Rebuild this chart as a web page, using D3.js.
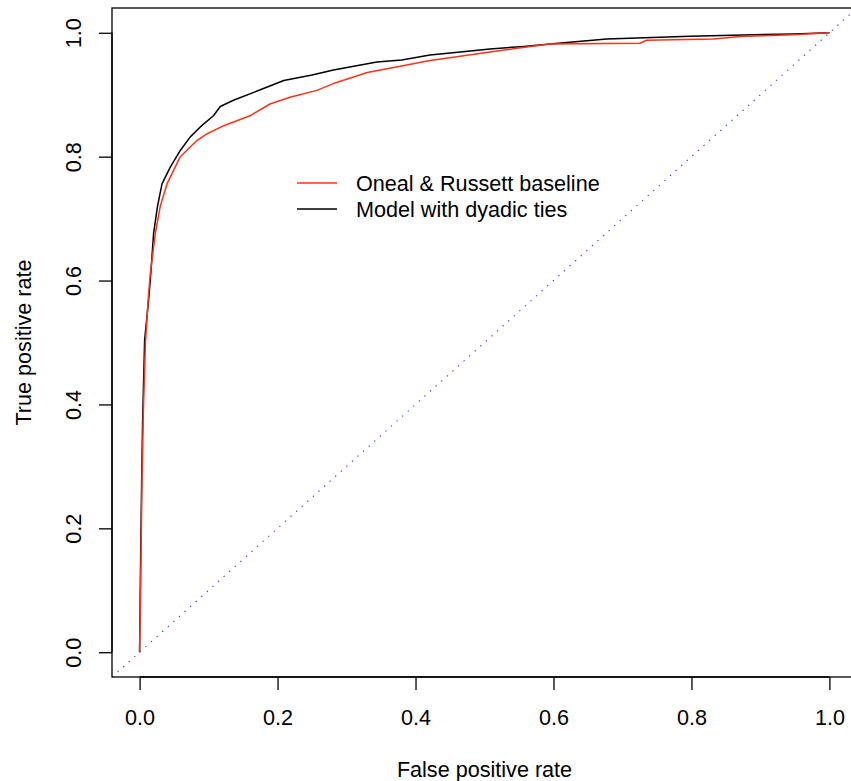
<!DOCTYPE html>
<html>
<head>
<meta charset="utf-8">
<script src="https://cdn.jsdelivr.net/npm/d3@7"></script>
<style>
  html, body { margin: 0; padding: 0; background: #fff; }
  svg { display: block; }
  text { font-family: "Liberation Sans", Arial, Helvetica, sans-serif; fill: #000; }
</style>
</head>
<body>
<svg id="chart" width="851" height="781"></svg>
<script>
// ---- data ----
const seriesNames = ["Oneal & Russett baseline", "Model with dyadic ties"];
const seriesColors = ["#ff3218", "#000000"];

const fprModel = [0, 0.0006, 0.0015, 0.003, 0.0045, 0.0073, 0.013, 0.0155, 0.0203, 0.026, 0.0325, 0.0445, 0.059, 0.0735, 0.088, 0.107, 0.117, 0.136, 0.175, 0.209, 0.25, 0.281, 0.344, 0.38, 0.421, 0.465, 0.508, 0.557, 0.595, 0.677, 0.798, 0.875, 0.948, 1];
const tprModel = [0, 0.063, 0.15, 0.278, 0.38, 0.504, 0.568, 0.60, 0.676, 0.72, 0.756, 0.783, 0.81, 0.832, 0.848, 0.866, 0.881, 0.891, 0.908, 0.923, 0.932, 0.94, 0.953, 0.956, 0.964, 0.969, 0.974, 0.978, 0.982, 0.99, 0.9945, 0.9966, 0.998, 1];

const fprBaseline = [0, 0.0008, 0.002, 0.0035, 0.0055, 0.0085, 0.0125, 0.0155, 0.0228, 0.030, 0.0397, 0.059, 0.083, 0.098, 0.122, 0.160, 0.189, 0.218, 0.257, 0.281, 0.330, 0.378, 0.419, 0.508, 0.561, 0.595, 0.725, 0.735, 0.832, 0.871, 0.948, 1];
const tprBaseline = [0, 0.06, 0.15, 0.28, 0.39, 0.50, 0.57, 0.611, 0.676, 0.72, 0.756, 0.80, 0.826, 0.837, 0.850, 0.866, 0.885, 0.896, 0.907, 0.918, 0.936, 0.946, 0.955, 0.969, 0.977, 0.982, 0.983, 0.988, 0.990, 0.994, 0.997, 1];

const tickValues = [0, 0.2, 0.4, 0.6, 0.8, 1.0];
const tickLabels = ["0.0", "0.2", "0.4", "0.6", "0.8", "1.0"];
const xTitle = "False positive rate";
const yTitle = "True positive rate";

// ---- layout ----
const svg = d3.select("#chart");
const pLeft = 112, pRight = 857, pTop = 8, pBottom = 677;
const fontSize = 21.6;
const tickLen = 13;

const x = d3.scaleLinear().domain([-0.04, 1.04]).range([pLeft, pRight]);
const y = d3.scaleLinear().domain([-0.04, 1.04]).range([pBottom, pTop]);

// clip for plot region
svg.append("defs").append("clipPath").attr("id", "plotclip")
  .append("rect").attr("x", pLeft).attr("y", pTop).attr("width", pRight - pLeft).attr("height", pBottom - pTop);

const plot = svg.append("g").attr("clip-path", "url(#plotclip)");

// diagonal reference line (abline 0,1), dotted blue
plot.append("line")
  .attr("x1", x(-0.04)).attr("y1", y(-0.04))
  .attr("x2", x(1.04)).attr("y2", y(1.04))
  .attr("stroke", "#2a3cff").attr("stroke-width", 1.1)
  .attr("stroke-dasharray", "1.3,6.2");

const line = d3.line().x(d => x(d[0])).y(d => y(d[1])).curve(d3.curveLinear);

const modelPts = fprModel.map((f, i) => [f, tprModel[i]]);
const basePts = fprBaseline.map((f, i) => [f, tprBaseline[i]]);

plot.append("path").datum(modelPts)
  .attr("d", line).attr("fill", "none")
  .attr("stroke", seriesColors[1]).attr("stroke-width", 1.5).attr("stroke-linejoin", "round");
plot.append("path").datum(basePts)
  .attr("d", line).attr("fill", "none")
  .attr("stroke", seriesColors[0]).attr("stroke-width", 1.5).attr("stroke-linejoin", "round");

// box
svg.append("rect")
  .attr("x", pLeft).attr("y", pTop).attr("width", pRight - pLeft).attr("height", pBottom - pTop)
  .attr("fill", "none").attr("stroke", "#000").attr("stroke-width", 1.3);

// x axis
const xAxis = d3.axisBottom(x).tickValues(tickValues)
  .tickFormat((d, i) => tickLabels[i]).tickSizeInner(tickLen).tickSizeOuter(0).tickPadding(0);
const gx = svg.append("g").attr("transform", `translate(0,${pBottom})`).call(xAxis);
gx.select(".domain").attr("d", `M${x(0)},0H${x(1)}`).attr("stroke", "#000").attr("stroke-width", 1.3);
gx.selectAll(".tick line").attr("stroke", "#000").attr("stroke-width", 1.3);
gx.selectAll(".tick text")
  .attr("y", 48).attr("dy", null)
  .style("font-size", fontSize + "px")
  .style("font-family", '"Liberation Sans", Arial, sans-serif')
  .attr("fill", "#000");

// y axis
const yAxis = d3.axisLeft(y).tickValues(tickValues)
  .tickFormat((d, i) => tickLabels[i]).tickSizeInner(tickLen).tickSizeOuter(0).tickPadding(0);
const gy = svg.append("g").attr("transform", `translate(${pLeft},0)`).call(yAxis);
gy.select(".domain").attr("d", `M0,${y(0)}V${y(1)}`).attr("stroke", "#000").attr("stroke-width", 1.3);
gy.selectAll(".tick line").attr("stroke", "#000").attr("stroke-width", 1.3);
gy.selectAll(".tick text")
  .attr("x", null).attr("dy", null)
  .attr("text-anchor", "middle")
  .attr("transform", "translate(-31,0) rotate(-90)")
  .style("font-size", fontSize + "px")
  .style("font-family", '"Liberation Sans", Arial, sans-serif')
  .attr("fill", "#000");

// axis titles
svg.append("text")
  .attr("x", x(0.5)).attr("y", pBottom + 100)
  .attr("text-anchor", "middle")
  .style("font-size", fontSize + "px")
  .text(xTitle);

svg.append("text")
  .attr("transform", `translate(${pLeft - 81},${y(0.5)}) rotate(-90)`)
  .attr("text-anchor", "middle")
  .style("font-size", fontSize + "px")
  .text(yTitle);

// legend
const legX1 = 297, legX2 = 337, legTextX = 356;
const legY = [183, 209];
const legend = svg.append("g");
seriesNames.forEach((name, i) => {
  legend.append("line")
    .attr("x1", legX1).attr("x2", legX2)
    .attr("y1", legY[i]).attr("y2", legY[i])
    .attr("stroke", seriesColors[i]).attr("stroke-width", 1.5);
  legend.append("text")
    .attr("x", legTextX).attr("y", legY[i] + 8)
    .style("font-size", fontSize + "px")
    .text(name);
});
</script>
</body>
</html>
